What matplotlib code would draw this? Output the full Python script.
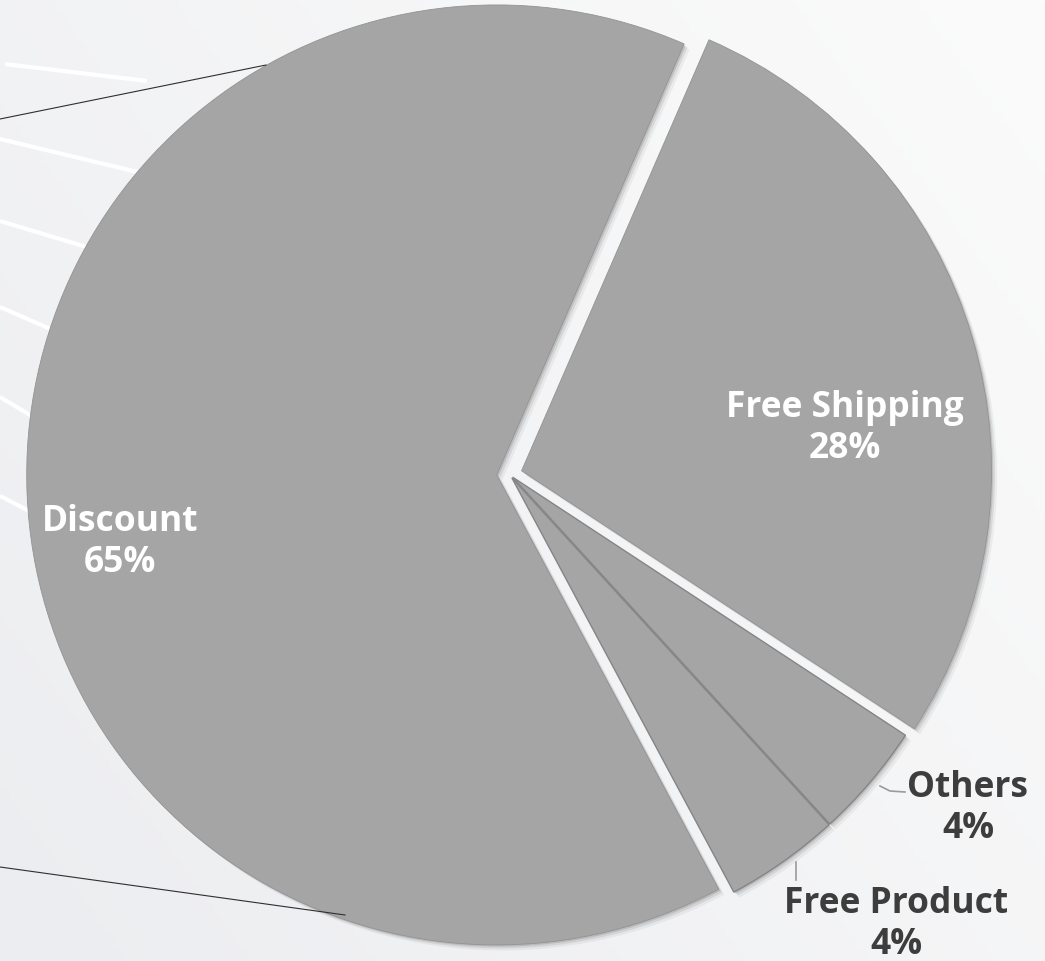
"""Coupon type share - exploded grey pie on a light gradient background."""
import numpy as np
import matplotlib
matplotlib.use("Agg")
import matplotlib.pyplot as plt
import matplotlib.patheffects as pe

# data, clockwise from the top
LABELS = ["Free Shipping", "Others", "Free Product", "Discount"]
VALUES = [28, 4, 4, 65]
PCT_TEXT = ["28%", "4%", "4%", "65%"]

# layout (image pixels of a 1045x962 canvas)
W, H = 1045, 962
CX, CY, R = 509.4, 475.4, 470.0      # pie centre and radius
EXPLODE = [0.027, 0.009, 0.009, 0.027]
START = 66.5
LABEL_PX = [(845, 458), (968, 838), (896, 954), (120, 572)]   # last-line baselines
LABEL_COL = ["white", "#3d3d3d", "#3d3d3d", "white"]
SLICE = "#a5a5a5"


def px(x, y):
    """pixel position -> data units (pie radius = 1)"""
    return (x - CX) / R, (CY - y) / R


fig = plt.figure(figsize=(W / 100, H / 100), dpi=100)

# background: soft diagonal gradient plus the faint white streaks on the left
bg = fig.add_axes([0, 0, 1, 1], zorder=0)
gx, gy = np.meshgrid(np.linspace(0, 1, 200), np.linspace(0, 1, 200))
g = 0.6 * gx + 0.4 * (1 - gy)
c0, c1 = np.array([236, 237, 240]) / 255, np.array([251, 251, 251]) / 255
bg.imshow(c0 + (c1 - c0) * g[..., None], extent=[0, W, H, 0], aspect="auto")
bg.set_xlim(0, W)
bg.set_ylim(H, 0)
bg.axis("off")
for (x0, y0), (x1, y1) in [((5, 65), (147, 82)), ((0, 140), (200, 188)),
                           ((0, 222), (200, 282)), ((0, 308), (200, 395)),
                           ((0, 398), (200, 518)), ((0, 497), (200, 600))]:
    bg.plot([x0, x1], [y0, y1], color="white", lw=3, solid_capstyle="butt")

ax = fig.add_axes([0, 0, 1, 1], zorder=1)
ax.patch.set_alpha(0)
wedges, _ = ax.pie(VALUES, explode=EXPLODE, startangle=START, counterclock=False,
                   colors=[SLICE] * len(VALUES), radius=1,
                   wedgeprops=dict(edgecolor="#939393", linewidth=0.6))
shadow = [pe.SimplePatchShadow(offset=(4, -4), alpha=0.06),
          pe.SimplePatchShadow(offset=(2.5, -2.5), alpha=0.10),
          pe.SimplePatchShadow(offset=(1.2, -1.2), alpha=0.15),
          pe.Normal()]
for w in wedges:
    w.set_path_effects(shadow)
# the two small slices sit almost flush, leaving a darker seam
for w in wedges[1:3]:
    w.set_edgecolor("#858585")
    w.set_linewidth(1.0)

x0, y0 = px(0, H)
x1, y1 = px(W, 0)
ax.set_xlim(x0, x1)
ax.set_ylim(y0, y1)
ax.set_aspect("auto")
ax.axis("off")

for lab, pct, (lx, ly), col in zip(LABELS, PCT_TEXT, LABEL_PX, LABEL_COL):
    ax.text(*px(lx, ly), f"{lab}\n{pct}", ha="center", va="baseline",
            multialignment="center", color=col, fontsize=25.5,
            family="Open Sans", fontweight="bold", linespacing=1.18)

# leader lines for the two small slices
ax.plot(*zip(px(880, 787), px(890, 792), px(905, 793)), color="#9a9a9a", lw=1.2)
ax.plot(*zip(px(796, 863), px(796, 881)), color="#9a9a9a", lw=1.2)

# connector lines running off to the left edge
ax.plot(*zip(px(0, 120), px(266, 66)), color="#2f2f2f", lw=0.8)
ax.plot(*zip(px(0, 868), px(345, 916)), color="#2f2f2f", lw=0.8)

fig.savefig("out.png", dpi=100, facecolor="#f3f3f5")
